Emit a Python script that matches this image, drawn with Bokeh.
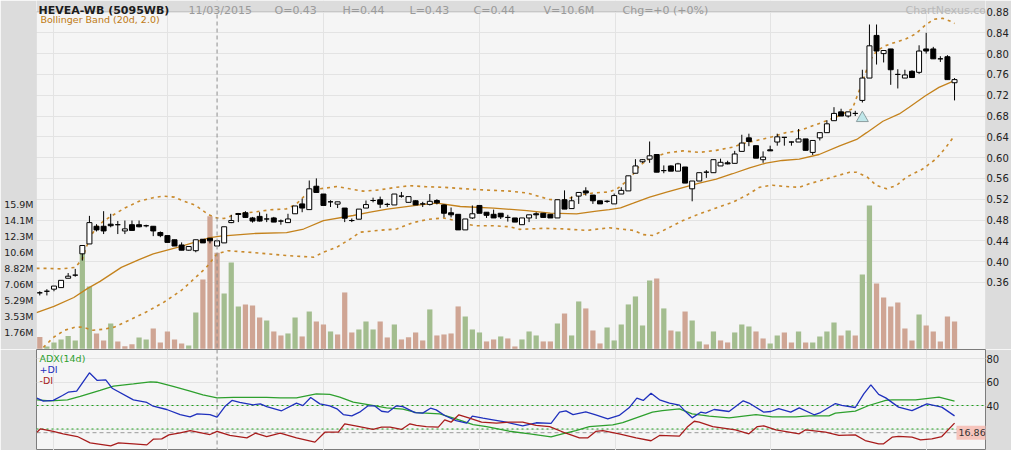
from bokeh.plotting import figure
from bokeh.layouts import column
from bokeh.models import (ColumnDataSource, Range1d, LinearAxis, FixedTicker, Span,
                          BoxAnnotation, Label, Grid, PrintfTickFormatter)
from bokeh.embed import file_html
from bokeh.resources import INLINE

# ---------------- data ----------------
open_ = [
    .340, .343, .347, .350, .368, .374, .415, .434, .468, .468,
    .472, .471, .459, .471, .471, .469, .468, .456, .450, .442,
    .432, .422, .421, .443, .445, .430, .436, .475, .4925, .494,
    .484, .487, .482, .484, .478, .475, .492, .511, .500, .545,
    .530, .515, .5105, .503, .479, .4816, .503, .5175, .519, .510,
    .509, .526, .514, .517, .511, .510, .5175, .509, .494, .491,
    .461, .484, .508, .495, .491, .493, .485, .484, .471, .484,
    .492, .493, .491, .484, .519, .502, .526, .536, .528, .517,
    .516, .511, .530, .536, .570, .592, .597, .606, .575, .584,
    .574, .582, .540, .555, .572, .571, .584, .590, .589, .612,
    .638, .623, .596, .615, .630, .639, .630, .630, .636, .610,
    .638, .648, .671, .688, .680, .685, .710, .753, .835, .800,
    .809, .760, .753, .766, .764, .809, .809, .790, .794, .744]
high = [
    .343, .347, .353, .364, .378, .386, .431, .488, .472, .497,
    .492, .478, .479, .479, .479, .471, .468, .458, .450, .442,
    .437, .429, .442, .443, .445, .440, .467, .490, .493, .497,
    .486, .495, .492, .486, .481, .492, .507, .521, .556, .560,
    .530, .518, .515, .503, .483, .501, .5175, .523, .525, .513,
    .530, .534, .525, .518, .515, .530, .520, .510, .504, .491,
    .482, .508, .508, .495, .500, .493, .490, .484, .484, .490,
    .495, .493, .491, .519, .537, .525, .533, .543, .528, .517,
    .518, .531, .543, .565, .597, .597, .631, .606, .585, .585,
    .590, .582, .555, .571, .576, .596, .598, .594, .613, .644,
    .646, .623, .612, .623, .646, .639, .631, .655, .636, .633,
    .648, .672, .697, .694, .688, .690, .769, .856, .856, .806,
    .809, .770, .769, .768, .816, .840, .813, .795, .797, .753]
low = [
    .335, .335, .343, .350, .368, .371, .402, .434, .458, .453,
    .466, .453, .453, .460, .466, .466, .449, .447, .437, .430,
    .422, .421, .418, .436, .435, .430, .436, .474, .476, .484,
    .475, .477, .476, .476, .471, .475, .492, .495, .500, .533,
    .508, .505, .503, .476, .476, .4816, .503, .514, .503, .505,
    .509, .523, .514, .509, .505, .508, .510, .485, .485, .461,
    .461, .482, .493, .484, .484, .482, .477, .476, .471, .476,
    .482, .485, .484, .484, .501, .502, .511, .527, .511, .511,
    .513, .511, .530, .536, .570, .590, .590, .572, .570, .574,
    .574, .551, .516, .555, .561, .571, .584, .587, .589, .612,
    .622, .599, .590, .613, .623, .623, .623, .630, .614, .605,
    .633, .648, .671, .680, .677, .680, .706, .753, .779, .783,
    .740, .733, .753, .753, .761, .800, .790, .784, .750, .710]
close = [
    .340, .343, .353, .364, .372, .374, .431, .475, .461, .459,
    .469, .471, .463, .460, .467, .469, .459, .450, .437, .430,
    .422, .429, .442, .436, .440, .440, .467, .479, .4906, .485,
    .478, .478, .482, .476, .478, .482, .507, .503, .540, .533,
    .508, .515, .515, .4835, .479, .501, .5097, .5175, .5105, .510,
    .530, .526, .525, .509, .511, .516, .513, .493, .490, .461,
    .482, .492, .493, .489, .484, .486, .485, .476, .484, .490,
    .490, .485, .484, .519, .501, .517, .533, .532, .517, .511,
    .516, .527, .537, .565, .584, .596, .6035, .572, .575, .574,
    .588, .551, .555, .571, .572, .596, .591, .588, .607, .628,
    .631, .599, .601, .613, .640, .639, .630, .636, .614, .633,
    .648, .665, .685, .680, .688, .685, .753, .815, .805, .806,
    .769, .760, .759, .754, .805, .805, .790, .790, .750, .750]
volume_m = [
    1.29, 0.26, 0.70, 1.03, 1.40, 0.92, 10.5, 6.87, 1.69, 0.92,
    2.79, 0.81, 0.29, 0.51, 1.25, 1.03, 2.24, 0.70, 1.91, 1.03,
    0.59, 0.37, 4.00, 7.64, 14.6, 10.6, 6.10, 9.52, 4.67, 4.89,
    4.78, 3.45, 3.12, 1.91, 1.47, 1.69, 3.45, 1.36, 4.11, 3.01,
    2.68, 1.91, 1.58, 6.21, 1.80, 2.13, 3.01, 2.13, 3.01, 1.25,
    2.68, 1.03, 1.27, 1.80, 0.92, 4.34, 1.47, 1.58, 1.69, 4.67,
    3.56, 2.13, 1.80, 0.81, 1.03, 1.36, 1.14, 0.26, 1.03, 1.91,
    1.47, 0.81, 0.81, 2.79, 3.89, 1.47, 5.22, 4.45, 2.02, 0.59,
    2.35, 0.92, 2.68, 4.89, 5.77, 2.57, 7.53, 7.75, 4.45, 2.02,
    1.91, 4.11, 3.12, 0.81, 0.48, 1.91, 0.92, 0.70, 1.80, 2.68,
    2.46, 1.91, 1.14, 0.59, 1.47, 1.80, 0.70, 1.91, 0.70, 0.70,
    1.36, 1.91, 2.90, 1.47, 2.02, 1.47, 8.19, 15.80, 7.20, 5.66,
    4.67, 5.11, 2.24, 0.92, 3.78, 2.57, 1.91, 0.81, 3.56, 3.01]
# g = volume up (green), b = volume down (brown)
vol_dir = list(
    "bgggggggbb" "gbbbggbbbb" "bggbbbgggb" "bbgbbggbgb" "bgbbbgggbb"
    "gbbbbgbbbb" "gggbbgbbgg" "gbbgbggbbb" "gggggggbgb" "gbggbgbbgg"
    "gbbggbbgbg" "gggbgbggbb" "bbbbgbbbbb")

# Bollinger band (20d, 2.0) read at bar positions
upper_idx = [-0.46, 1, 3, 5, 6, 7, 8, 9, 10, 12, 14, 16, 17.5, 19, 20, 22, 23, 24, 25, 26,
             27.8, 30, 32.5, 34.8, 36.2, 37.6, 39.5, 41.9, 43.7, 45.6, 47.9, 50.3, 52.2, 54.5,
             56.9, 59, 61.6, 64, 66.3, 68.7, 70.5, 71.9, 73.8, 75.7, 78, 80.3, 81.4, 83.2, 84.6,
             86, 88.4, 90.7, 93, 95.4, 97.7, 99.1, 101.1, 103.3, 105.2, 107.1, 110.4, 112.8,
             114.6, 116, 117, 118, 119.2, 120.7, 122.1, 123.5, 124.9, 126.1, 127.3, 128.5, 129]
upper_val = [.387, .387, .386, .389, .405, .445, .466, .478, .487, .503, .516, .523, .526, .524,
             .518, .508, .498, .489, .484, .483, .492, .495, .4996, .5015, .511, .530, .540,
             .5445, .540, .5355, .538, .543, .546, .544, .543, .541, .5385, .537, .5355, .532,
             .525, .5195, .5175, .527, .532, .534, .540, .5595, .585, .598, .609, .613, .610,
             .614, .620, .627, .633, .640, .648, .652, .668, .681, .694, .745, .785, .805, .815,
             .822, .828, .838, .855, .866, .868, .862, .858]
mid_idx = [-0.46, 2, 4.8, 6.7, 8.5, 11.5, 14, 16, 19.8, 22, 24, 25.5, 30.1, 34.8, 37.2, 40,
           44.2, 46.6, 49, 53.6, 56, 59.3, 64, 68.7, 72, 75.7, 78.5, 80.3, 81.9, 83.7, 86, 88.4,
           91.2, 93, 95.4, 97.7, 100.1, 102.4, 104.7, 107.1, 109.9, 112.8, 115.2, 116.6, 118.9,
           121.2, 122.6, 124.9, 126.8, 129]
mid_val = [.302, .314, .331, .348, .362, .389, .404, .415, .429, .438, .446, .449, .454, .4556,
           .4627, .479, .4887, .495, .501, .509, .5125, .506, .503, .498, .4932, .4919, .497,
           .500, .5033, .5123, .524, .5335, .5444, .551, .5585, .569, .5804, .5894, .5945, .597,
           .606, .6227, .635, .648, .670, .684, .697, .719, .735, .748]
lower_idx = [0.5, 2, 3.5, 5, 6, 7.5, 9, 10.5, 13, 15, 17.5, 20, 22, 23.5, 25, 26.5, 30.1, 34.8,
             38.6, 40, 41.9, 43.8, 45.2, 47.6, 50.4, 52.5, 54.6, 56.9, 58.3, 59.3, 61.6, 64, 66.3,
             67.7, 71, 73.8, 77.1, 80.3, 83.7, 85.1, 86.5, 88.4, 90.7, 93, 95.4, 97.7, 99.6,
             101.5, 103.3, 105.2, 107.1, 108.5, 111.4, 114.2, 115.2, 116.7, 118, 119.4, 120.8,
             122.2, 124.5, 126.4, 127.8, 129]
lower_val = [.235, .255, .268, .274, .274, .268, .270, .274, .290, .303, .322, .345, .370, .389,
             .415, .421, .4175, .4117, .4085, .418, .4278, .4438, .4566, .4598, .463, .4745, .481,
             .484, .480, .4733, .469, .469, .467, .462, .464, .463, .460, .465, .460, .452, .4503,
             .463, .479, .4918, .5033, .514, .527, .543, .547, .5444, .543, .5496, .561, .5719,
             .5719, .5624, .5464, .540, .5464, .5624, .578, .5976, .620, .6425]

# ADX(14d) panel, read at bar positions
pdi_idx = [-0.4, 0.5, 1.9, 3.2, 4.0, 5.2, 7.0, 8.1, 9.3, 10.2, 13.2, 15.1, 16.0, 17.9, 19.8, 21.2,
           22.2, 24.0, 25.0, 26.1, 27.1, 28.2, 30.1, 31.1, 32.0, 34.1, 36.2, 37.1, 38.2, 39.5,
           40.9, 41.9, 42.8, 44.0, 45.1, 46.3, 47.2, 48.2, 49.1, 50.3, 51.2, 52.9, 54.0, 55.1,
           55.9, 57.1, 58.7, 60.2, 61.0, 62.5, 63.9, 65.8, 68.1, 70.0, 72.1, 73.3, 74.2, 75.2,
           77.0, 78.4, 80.1, 81.7, 83.1, 84.2, 85.1, 86.2, 87.4, 88.8, 90.2, 91.1, 92.0, 93.2,
           93.9, 95.1, 97.2, 99.2, 100.0, 102.1, 103.1, 104.2, 105.9, 107.1, 109.2, 110.1, 112.2,
           113.1, 115.0, 116.2, 117.2, 118.3, 119.3, 121.1, 123.0, 125.1, 127.2, 129.0]
pdi_val = [46.2, 43.7, 44.3, 48.5, 51.3, 52.2, 67.8, 61.3, 61.8, 54.7, 44.8, 42.6, 39.4, 36.6,
           32.3, 30.4, 32.9, 32.3, 30.1, 39.1, 44.3, 42.7, 40.6, 41.4, 39.1, 35.5, 42.0, 39.9,
           46.8, 41.4, 39.7, 37.2, 32.3, 31.2, 34.3, 39.7, 39.7, 35.1, 34.3, 39.7, 39.1, 34.0,
           33.5, 37.7, 36.3, 31.5, 27.2, 25.0, 30.9, 29.2, 27.8, 25.8, 22.7, 25.3, 24.8, 34.3,
           35.4, 32.3, 34.6, 32.0, 28.6, 31.5, 38.0, 46.2, 44.3, 50.5, 44.8, 42.0, 40.3, 34.6,
           29.5, 34.3, 33.5, 36.6, 34.9, 44.0, 42.1, 34.3, 34.9, 37.4, 34.3, 38.0, 32.1, 34.0,
           41.7, 40.1, 38.3, 49.9, 57.6, 49.4, 46.5, 38.6, 35.7, 41.4, 38.6, 31.2]
adx_idx = [-0.4, 1.5, 3.9, 5.7, 8.5, 10.4, 13.2, 15.6, 16.5, 18.8, 21.2, 23.0, 25.0, 27.3, 32.0,
           33.9, 36.2, 39.0, 40.9, 42.3, 44.2, 46.5, 48.9, 51.2, 53.1, 56.4, 58.7, 61.1, 63.0,
           66.2, 69.1, 72.1, 73.7, 75.6, 77.5, 80.8, 82.2, 84.1, 86.4, 87.8, 90.2, 92.0, 94.4,
           97.2, 101.0, 103.3, 106.6, 108.5, 111.3, 112.2, 115.0, 116.9, 119.3, 120.2, 123.5,
           126.8, 129.0]
adx_val = [44.8, 44.0, 44.8, 47.7, 52.8, 56.5, 58.4, 60.1, 59.8, 56.2, 52.2, 49.1, 46.5, 47.0,
           47.0, 46.5, 46.5, 49.9, 49.4, 47.1, 42.8, 40.6, 38.0, 36.9, 34.0, 32.9, 28.6, 23.8,
           22.1, 18.1, 15.9, 13.3, 15.9, 18.7, 22.1, 23.5, 25.5, 29.5, 34.3, 35.7, 37.1, 32.9,
           30.9, 29.5, 32.3, 30.4, 30.4, 31.2, 31.2, 33.5, 35.2, 40.0, 44.3, 44.8, 44.8, 47.1, 43.7]
mdi_idx = [-0.4, 0.1, 1.9, 3.3, 5.3, 7.1, 10.0, 11.1, 13.2, 15.1, 16.0, 17.2, 18.2, 19.8, 21.2,
           22.6, 24.0, 25.0, 26.8, 29.2, 30.4, 32.0, 33.9, 36.2, 38.8, 40.2, 42.1, 43.0, 44.7,
           47.0, 48.2, 49.4, 51.0, 52.2, 53.1, 54.5, 56.2, 57.1, 58.0, 59.1, 60.6, 62.3, 64.4,
           66.2, 68.1, 70.0, 71.9, 74.2, 76.1, 77.3, 78.4, 79.4, 81.7, 84.1, 86.2, 87.4, 90.2,
           91.3, 92.3, 93.0, 94.9, 98.1, 100.0, 101.2, 102.1, 103.8, 107.1, 108.0, 110.8, 112.7,
           115.0, 116.4, 118.3, 119.0, 120.2, 121.1, 123.0, 124.2, 125.8, 127.2, 129.0]
mdi_val = [17.3, 20.2, 17.9, 15.9, 13.6, 8.2, 5.7, 8.2, 7.4, 6.5, 11.3, 11.6, 15.0, 16.7, 18.7,
           17.0, 15.3, 17.9, 14.5, 12.5, 16.4, 13.6, 16.4, 12.5, 8.8, 17.3, 17.3, 24.4, 22.4,
           19.6, 21.6, 21.6, 19.6, 24.4, 23.0, 22.1, 21.6, 27.8, 25.8, 32.1, 29.2, 25.8, 25.0,
           25.8, 25.8, 23.0, 22.1, 16.4, 12.5, 12.5, 17.9, 18.7, 15.9, 12.5, 10.0, 14.5, 13.9,
           21.6, 26.6, 25.8, 22.1, 19.3, 15.9, 22.1, 22.7, 19.3, 15.9, 19.3, 17.3, 14.5, 15.0,
           10.2, 7.4, 7.4, 13.0, 13.8, 13.0, 10.8, 11.6, 13.6, 25.0]

price_ticks = [0.36, 0.40, 0.44, 0.48, 0.52, 0.56, 0.60, 0.64, 0.68, 0.72, 0.76, 0.80, 0.84, 0.88]
vol_ticks = [1.76e6, 3.53e6, 5.29e6, 7.06e6, 8.82e6, 10.58e6, 12.35e6, 14.11e6, 15.87e6]
vol_labels = ["1.76M", "3.53M", "5.29M", "7.06M", "8.82M", "10.6M", "12.3M", "14.1M", "15.9M"]
adx_ticks = [40, 60, 80]
adx_grid = [20, 40, 60, 80]
month_idx = [2, 18, 40, 62, 81.25, 103, 125]
cursor_idx = 25
cursor_mdi = 16.86
alert_idx = [116]
alert_price = [0.676]
header_texts = ["11/03/2015", "O=0.43", "H=0.44", "L=0.43", "C=0.44", "V=10.6M", "Chg=+0 (+0%)"]

# ---------------- layout / style ----------------
W = 1011
LB, RB = 36, 24
MAIN_H, ADX_H = 349, 101
FW = W - LB - RB
HEAD = 11
PX_PER_BAR = 7.106
PX_PER_PRICE = 520.0
FONT = "DejaVu Sans"
P_TOP = 0.881                                   # top edge of the price panel
P_HI = P_TOP + HEAD / PX_PER_PRICE
P_LO = P_HI - MAIN_H / PX_PER_PRICE
VOL_PX = 16 / 1.7637e6                           # px per share
VOL_LO = -(MAIN_H - 348.3) / VOL_PX
VOL_HI = VOL_LO + MAIN_H / VOL_PX
X_LO = -3.3 / PX_PER_BAR
X_HI = X_LO + FW / PX_PER_BAR
A_PX = 1.175
A_HI = 40 + (405 - 349) / A_PX
A_LO = A_HI - ADX_H / A_PX
BG, BORDER, GRID, EDGE = "#f5f5f5", "#dcdcdc", "#e3e3e3", "#7c7c7c"
VCOL = {"g": "#a3bd8f", "b": "#cfa594"}
BAND = "#c98a2c"

n = len(close)
src = ColumnDataSource(dict(
    x=list(range(n)), o=open_, h=high, l=low, c=close,
    top=[max(a, b) for a, b in zip(open_, close)],
    bottom=[min(a, b) for a, b in zip(open_, close)],
    fill=["white" if c >= o else "black" for o, c in zip(open_, close)],
    vol=[v * 1e6 for v in volume_m],
    vcol=[VCOL[d] for d in vol_dir],
))


def style_axis(ax, size, standoff):
    ax.axis_line_color = None
    ax.major_tick_line_color = None
    ax.minor_tick_line_color = None
    ax.major_tick_out = 0
    ax.major_tick_in = 0
    ax.major_label_text_font = FONT
    ax.major_label_text_font_size = size
    ax.major_label_text_color = "#222222"
    ax.major_label_standoff = standoff


xr = Range1d(X_LO, X_HI)
p = figure(width=W, height=MAIN_H, x_range=xr, y_range=Range1d(P_LO, P_HI),
           x_axis_location=None, y_axis_location="right", toolbar_location=None,
           output_backend="svg", min_border_left=LB, min_border_right=RB,
           min_border_top=0, min_border_bottom=0, background_fill_color=BG,
           border_fill_color=BORDER, outline_line_color=None)
p.grid.visible = False
pax = p.yaxis[0]
pax.ticker = FixedTicker(ticks=price_ticks)
pax.formatter = PrintfTickFormatter(format="%.2f")
style_axis(pax, "10px", 1)

p.extra_y_ranges = {"vol": Range1d(VOL_LO, VOL_HI)}
vax = LinearAxis(y_range_name="vol", ticker=FixedTicker(ticks=vol_ticks),
                 major_label_overrides=dict(zip(vol_ticks, vol_labels)))
style_axis(vax, "9.5px", 3)
p.add_layout(vax, "left")

p.add_layout(Grid(dimension=0, ticker=FixedTicker(ticks=month_idx), grid_line_color=GRID))
p.add_layout(Grid(dimension=1, ticker=FixedTicker(ticks=price_ticks), grid_line_color=GRID))

p.vbar(x="x", width=0.74, top="vol", bottom=0, fill_color="vcol", line_color=None,
       y_range_name="vol", source=src)
p.line(mid_idx, mid_val, line_color="#c4821c", line_width=1.3)
p.line(upper_idx, upper_val, line_color=BAND, line_width=1.6, line_dash="3 4")
p.line(lower_idx, lower_val, line_color=BAND, line_width=1.6, line_dash="3 4")
p.segment(x0="x", y0="l", x1="x", y1="h", line_color="black", line_width=1, source=src)
p.vbar(x="x", width=0.7, top="top", bottom="bottom", fill_color="fill",
       line_color="black", line_width=1, source=src)
p.scatter(alert_idx, alert_price, marker="triangle", size=12, fill_color="#bfe7ea",
          line_color="#8c9ea0")

p.add_layout(Span(location=cursor_idx, dimension="height", line_color="#8f8f8f",
                  line_dash="4 3", line_width=1))
p.add_layout(BoxAnnotation(bottom=P_TOP, fill_color=BORDER, fill_alpha=1, line_color=None))
p.add_layout(BoxAnnotation(top=P_TOP, fill_color=None, line_color=EDGE, line_width=1))

hy = MAIN_H - 9.5
p.add_layout(Label(x=38 - LB, y=hy, x_units="screen", y_units="screen", text="HEVEA-WB (5095WB)",
                   text_font=FONT, text_font_size="11px", text_font_style="bold",
                   text_color="#1c1c1c", text_baseline="alphabetic"))
for t, px in zip(header_texts, [188, 274, 342, 409, 473, 543, 622]):
    p.add_layout(Label(x=px - LB, y=hy, x_units="screen", y_units="screen", text=t,
                       text_font=FONT, text_font_size="11px", text_color="#9a9a9a",
                       text_baseline="alphabetic"))
p.add_layout(Label(x=905 - LB, y=hy, x_units="screen", y_units="screen", text="ChartNexus.com",
                   text_font=FONT, text_font_size="11px", text_color="#b9b9b9",
                   text_baseline="alphabetic"))
p.add_layout(Label(x=4, y=MAIN_H - 13, x_units="screen", y_units="screen",
                   text="Bollinger Band (20d, 2.0)", text_font=FONT, text_font_size="9.5px",
                   text_color="#c07a12", text_baseline="top"))

# ---------------- ADX panel ----------------
q = figure(width=W, height=ADX_H, x_range=xr, y_range=Range1d(A_LO, A_HI),
           x_axis_location=None, y_axis_location="right", toolbar_location=None,
           output_backend="svg", min_border_left=LB, min_border_right=RB,
           min_border_top=0, min_border_bottom=0, background_fill_color=BG,
           border_fill_color=BORDER, outline_line_color=EDGE)
q.grid.visible = False
qax = q.yaxis[0]
qax.ticker = FixedTicker(ticks=adx_ticks)
style_axis(qax, "10px", 1)
q.add_layout(Grid(dimension=0, ticker=FixedTicker(ticks=month_idx), grid_line_color=GRID))
q.add_layout(Grid(dimension=1, ticker=FixedTicker(ticks=adx_grid), grid_line_color=GRID))
q.add_layout(Span(location=40, dimension="width", line_color="#1f9f1f", line_dash="2 3",
                  line_width=1.2, level="underlay"))
q.add_layout(Span(location=20, dimension="width", line_color="#1f9f1f", line_dash="2 3",
                  line_width=1.2, level="underlay"))
q.add_layout(Span(location=cursor_mdi, dimension="width", line_color="#9a9a9a",
                  line_dash="4 3", line_width=1, level="underlay"))
q.add_layout(Span(location=cursor_idx, dimension="height", line_color="#8f8f8f",
                  line_dash="4 3", line_width=1, level="underlay"))
q.line(adx_idx, adx_val, line_color="#2ea02e", line_width=1.3)
q.line(pdi_idx, pdi_val, line_color="#1f30bd", line_width=1.3)
q.line(mdi_idx, mdi_val, line_color="#a81c1c", line_width=1.3)
for t, col, yy in [("ADX(14d)", "#2ea02e", ADX_H - 3.5), ("+DI", "#1f30bd", ADX_H - 14),
                   ("-DI", "#a81c1c", ADX_H - 25)]:
    q.add_layout(Label(x=3, y=yy, x_units="screen", y_units="screen", text=t, text_font=FONT,
                       text_font_size="9.5px", text_color=col, text_baseline="top"))
# pink value badge for the cursor's -DI reading
q.add_layout(BoxAnnotation(left=FW - 31, right=FW, left_units="screen", right_units="screen",
                           bottom=cursor_mdi - 7 / A_PX, top=cursor_mdi + 7 / A_PX,
                           fill_color="#f6c4bc", fill_alpha=1, line_color=None))
q.add_layout(Label(x=FW - 29, y=cursor_mdi, x_units="screen", y_units="data", text="16.86",
                   text_font=FONT, text_font_size="9.5px", text_color="#333333",
                   text_baseline="middle"))

open("out.html", "w").write(file_html(column(p, q), INLINE))
